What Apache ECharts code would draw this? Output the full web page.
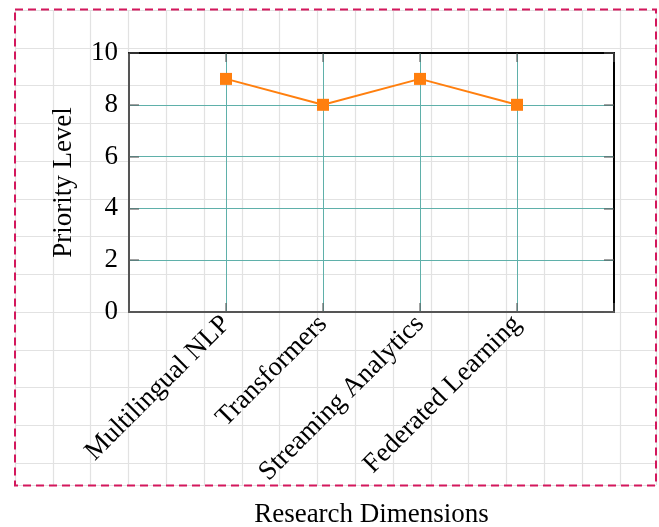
<!DOCTYPE html>
<html>
<head>
<meta charset="utf-8">
<script src="https://cdn.jsdelivr.net/npm/echarts@6/dist/echarts.min.js"></script>
<style>
  html, body { margin: 0; padding: 0; background: #ffffff; }
  #chart { width: 659px; height: 527px; }
</style>
</head>
<body>
<div id="chart"></div>
<script>
// Research dimensions and their priority levels
const categories = ['Multilingual NLP', 'Transformers', 'Streaming Analytics', 'Federated Learning'];
const priority = [9, 8, 9, 8];

// Value axis range
const yMin = 0;
const yMax = 10;
const yStep = 2;

const serif = '"Liberation Serif", "DejaVu Serif", serif';
const teal = '#5fb0aa';
const tickGray = 'rgba(90,90,90,0.75)';
const fontSize = 27;

const chart = echarts.init(document.getElementById('chart'), null, { renderer: 'canvas' });

const option = {
  animation: false,
  backgroundColor: '#ffffff',
  grid: [
    // main plot
    { left: 129, top: 53, width: 485, height: 259, containLabel: false, outerBoundsMode: 'none' },
    // squared paper behind the figure
    { left: 15, top: 10, width: 641, height: 475, containLabel: false, outerBoundsMode: 'none' }
  ],
  xAxis: [
    {
      gridIndex: 0, type: 'value', position: 'bottom',
      min: 0, max: categories.length + 1, interval: 1, z: 3,
      axisLine: { show: true, onZero: false, lineStyle: { color: '#555555', width: 2 } },
      axisTick: { show: true, inside: true, length: 9, lineStyle: { color: tickGray, width: 1.5 } },
      splitLine: { show: true, lineStyle: { color: teal, width: 1 } },
      axisLabel: {
        rotate: 45, margin: 8, color: '#000', fontFamily: serif, fontSize: fontSize,
        showMinLabel: true, showMaxLabel: true,
        formatter: v => categories[v - 1] || ''
      },
      name: 'Research Dimensions', nameLocation: 'middle', nameGap: 189,
      nameTextStyle: { color: '#000', fontFamily: serif, fontSize: fontSize }
    },
    {
      gridIndex: 0, type: 'value', position: 'top',
      min: 0, max: categories.length + 1, interval: 1, z: 3,
      axisLine: { show: true, onZero: false, lineStyle: { color: '#000000', width: 2 } },
      axisTick: { show: true, inside: true, length: 9, lineStyle: { color: tickGray, width: 1.5 } },
      axisLabel: { show: false },
      splitLine: { show: false }
    },
    {
      gridIndex: 1, type: 'value', min: 0, max: 641 / 37.8, interval: 1, z: 0,
      axisLine: { show: false }, axisTick: { show: false }, axisLabel: { show: false },
      splitLine: { show: true, lineStyle: { color: '#e2e2e2', width: 1.2 } }
    }
  ],
  yAxis: [
    {
      gridIndex: 0, type: 'value', position: 'left',
      min: yMin, max: yMax, interval: yStep, z: 3,
      axisLine: { show: true, onZero: false, lineStyle: { color: '#555555', width: 2 } },
      axisTick: { show: true, inside: true, length: 10, lineStyle: { color: tickGray, width: 1.5 } },
      splitLine: { show: true, lineStyle: { color: teal, width: 1 } },
      axisLabel: { margin: 11, color: '#000', fontFamily: serif, fontSize: fontSize },
      name: 'Priority Level', nameLocation: 'middle', nameGap: 52,
      nameTextStyle: { color: '#000', fontFamily: serif, fontSize: fontSize }
    },
    {
      gridIndex: 0, type: 'value', position: 'right',
      min: yMin, max: yMax, interval: yStep, z: 3,
      axisLine: { show: true, onZero: false, lineStyle: { color: '#000000', width: 2 } },
      axisTick: { show: true, inside: true, length: 10, lineStyle: { color: tickGray, width: 1.5 } },
      axisLabel: { show: false },
      splitLine: { show: false }
    },
    {
      gridIndex: 1, type: 'value', inverse: true, min: 0, max: 475 / 37.75, interval: 1, z: 0,
      axisLine: { show: false }, axisTick: { show: false }, axisLabel: { show: false },
      splitLine: { show: true, lineStyle: { color: '#e2e2e2', width: 1.2 } }
    }
  ],
  series: [
    {
      type: 'line',
      xAxisIndex: 0, yAxisIndex: 0, z: 5,
      data: categories.map((c, i) => [i + 1, priority[i]]),
      symbol: 'rect', symbolSize: 12,
      lineStyle: { color: '#ff7f0e', width: 2 },
      itemStyle: { color: '#ff7f0e' }
    }
  ],
  graphic: [
    {
      type: 'rect', z: 10, silent: true,
      shape: { x: 15, y: 9.5, width: 641, height: 476 },
      style: { fill: 'none', stroke: '#d3175c', lineWidth: 2, lineDash: [8, 5] }
    }
  ]
};

chart.setOption(option);
</script>
</body>
</html>
